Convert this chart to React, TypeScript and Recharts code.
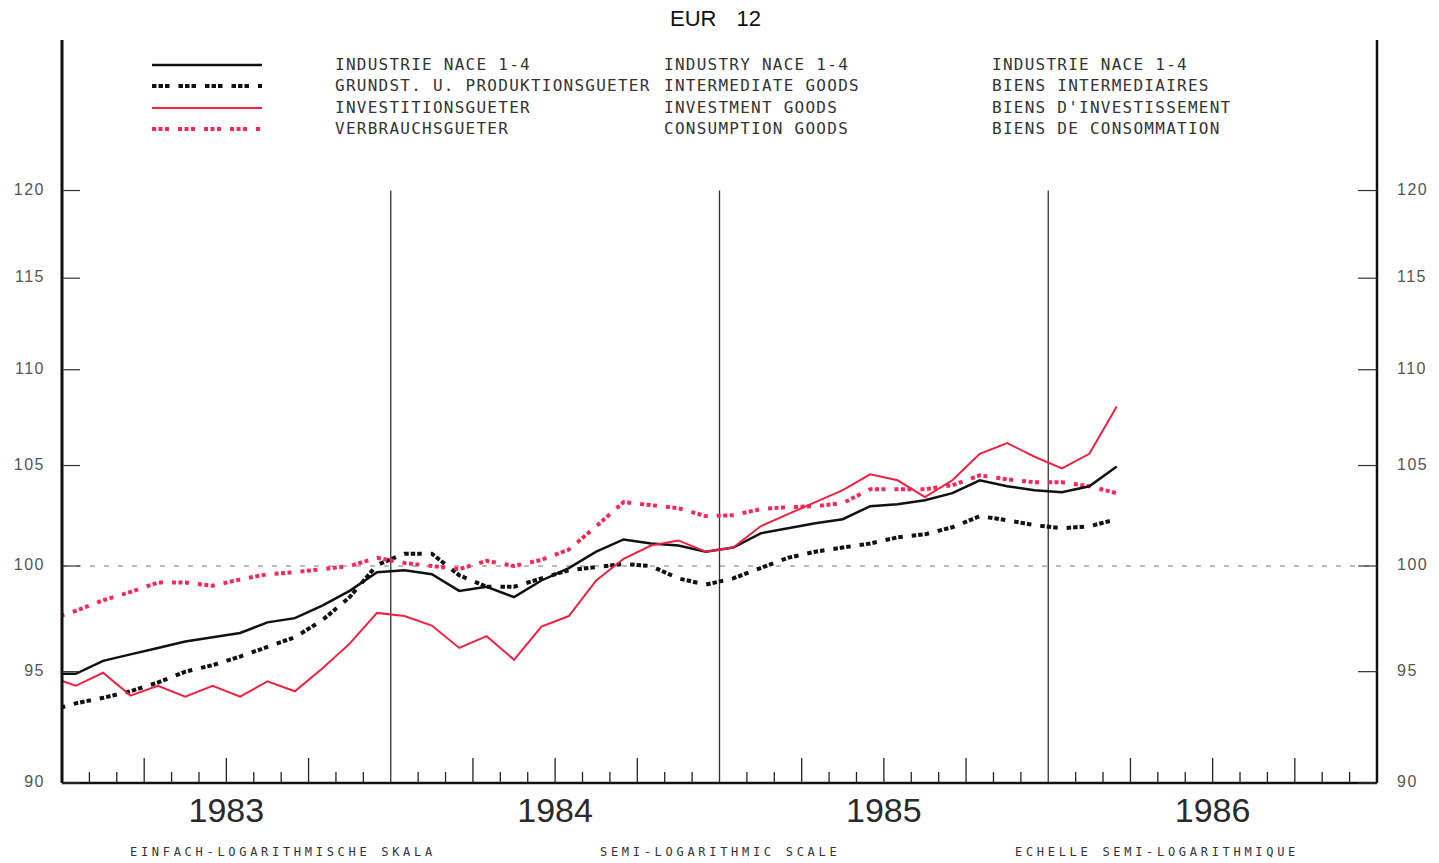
import { LineChart, Line, XAxis, YAxis, ReferenceLine, Legend } from "recharts"

// monthly index values, Dec 1982 .. Mar 1986 (Dec 1982 only feeds the clipped start)
const months = [
  "1982-12",
  "1983-01", "1983-02", "1983-03", "1983-04", "1983-05", "1983-06",
  "1983-07", "1983-08", "1983-09", "1983-10", "1983-11", "1983-12",
  "1984-01", "1984-02", "1984-03", "1984-04", "1984-05", "1984-06",
  "1984-07", "1984-08", "1984-09", "1984-10", "1984-11", "1984-12",
  "1985-01", "1985-02", "1985-03", "1985-04", "1985-05", "1985-06",
  "1985-07", "1985-08", "1985-09", "1985-10", "1985-11", "1985-12",
  "1986-01", "1986-02", "1986-03",
]

const industry = [
  94.9, 94.9, 95.5, 95.8, 96.1, 96.4, 96.6, 96.8, 97.3, 97.5, 98.1, 98.8, 99.7,
  99.8, 99.6, 98.8, 99.0, 98.5, 99.3, 99.9, 100.7, 101.3, 101.1, 101.0, 100.7,
  100.9, 101.6, 101.85, 102.1, 102.3, 102.95, 103.05, 103.25, 103.6, 104.25, 103.95, 103.75,
  103.65, 103.95, 104.95,
]

const intermediate = [
  93.2, 93.55, 93.8, 94.1, 94.5, 95.0, 95.3, 95.7, 96.15, 96.6, 97.4, 98.5, 100.05,
  100.6, 100.6, 99.55, 99.0, 99.0, 99.4, 99.8, 99.95, 100.1, 100.0, 99.4, 99.1,
  99.4, 99.9, 100.4, 100.7, 100.9, 101.1, 101.4, 101.55, 101.9, 102.45, 102.25, 102.0,
  101.85, 101.95, 102.3,
]

const investment = [
  94.8, 94.35, 94.95, 93.9, 94.35, 93.85, 94.35, 93.85, 94.55, 94.1, 95.15, 96.3, 97.75,
  97.6, 97.15, 96.1, 96.65, 95.55, 97.1, 97.6, 99.3, 100.35, 101.0, 101.25, 100.7,
  100.9, 101.95, 102.55, 103.15, 103.75, 104.55, 104.25, 103.4, 104.25, 105.6, 106.15, 105.45,
  104.85, 105.6, 108.05,
]

const consumption = [
  97.4, 97.85, 98.35, 98.75, 99.2, 99.2, 99.05, 99.35, 99.6, 99.7, 99.85, 100.0, 100.4,
  100.15, 100.0, 99.85, 100.25, 100.0, 100.3, 100.8, 101.95, 103.15, 103.0, 102.85, 102.45,
  102.5, 102.8, 102.9, 102.95, 103.1, 103.8, 103.8, 103.8, 104.0, 104.5, 104.3, 104.15,
  104.15, 103.95, 103.6,
]

const yearLabels = ["1983", "1984", "1985", "1986"]
const yTicks = [90, 95, 100, 105, 110, 115, 120]
const monthTicks = Array.from({ length: 49 }, (_, i) => i)
const yearBounds = [12, 24, 36]

const legendRows = [
  { key: "industry", de: "INDUSTRIE NACE 1-4", en: "INDUSTRY NACE 1-4", fr: "INDUSTRIE NACE 1-4" },
  { key: "intermediate", de: "GRUNDST. U. PRODUKTIONSGUETER", en: "INTERMEDIATE GOODS", fr: "BIENS INTERMEDIAIRES" },
  { key: "investment", de: "INVESTITIONSGUETER", en: "INVESTMENT GOODS", fr: "BIENS D'INVESTISSEMENT" },
  { key: "consumption", de: "VERBRAUCHSGUETER", en: "CONSUMPTION GOODS", fr: "BIENS DE CONSOMMATION" },
]

const styles: Record<string, { stroke: string; width: number; dash?: string }> = {
  industry: { stroke: "#111", width: 2.5 },
  intermediate: { stroke: "#111", width: 4, dash: "4.5 2 4.5 2 4.5 9" },
  investment: { stroke: "#ee2240", width: 2 },
  consumption: { stroke: "#f52a58", width: 4, dash: "4 2.5 4 2.5 4 9" },
}

const data = months.map((m, i) => ({
  month: m,
  t: i - 0.5,
  industry: industry[i],
  intermediate: intermediate[i],
  investment: investment[i],
  consumption: consumption[i],
}))

const mono = "'DejaVu Sans Mono', monospace"
const sans = "'Liberation Sans', Arial, sans-serif"

function MonthTick(props: any) {
  const { x, y, payload } = props
  const v = payload.value
  if (v % 12 === 0) return <g />
  const len = v % 3 === 0 ? 25 : 11
  const yi = v % 12 === 6 ? Math.floor(v / 12) : -1
  return (
    <g>
      <line x1={x} x2={x} y1={y} y2={y - len} stroke="#222" strokeWidth={1.3} />
      {yi >= 0 && (
        <text x={x} y={y + 39} textAnchor="middle" fontSize={34} fontFamily={sans} fill="#2a2a2a">
          {yearLabels[yi]}
        </text>
      )}
    </g>
  )
}

function LeftTick(props: any) {
  const { x, y, payload } = props
  return (
    <g>
      <line x1={x} x2={x + 18} y1={y} y2={y} stroke="#333" strokeWidth={1.2} />
      <text x={x - 17} y={y + 4} textAnchor="end" fontSize={16} letterSpacing={1.5} fontFamily={sans} fill="#555">
        {payload.value}
      </text>
    </g>
  )
}

function RightTick(props: any) {
  const { x, y, payload } = props
  return (
    <g>
      <line x1={x - 19} x2={x} y1={y} y2={y} stroke="#333" strokeWidth={1.2} />
      <text x={x + 20} y={y + 4} textAnchor="start" fontSize={16} letterSpacing={1.5} fontFamily={sans} fill="#555">
        {payload.value}
      </text>
    </g>
  )
}

function LegendBlock() {
  const txt = { position: "absolute" as const, fontFamily: mono, fontSize: 16, letterSpacing: 1.25, color: "#333", whiteSpace: "pre" as const, lineHeight: "16px" }
  return (
    <div style={{ position: "relative", width: 1150, height: 90 }}>
      {legendRows.map((r, i) => {
        const s = styles[r.key]
        const top = i * 21.3
        return (
          <div key={r.key}>
            <svg width={112} height={8} style={{ position: "absolute", left: 0, top: top + 4 }}>
              <line x1={1} x2={111} y1={4} y2={4} stroke={s.stroke} strokeWidth={s.width} strokeDasharray={s.dash} />
            </svg>
            <span style={{ ...txt, left: 184, top }}>{r.de}</span>
            <span style={{ ...txt, left: 513, top }}>{r.en}</span>
            <span style={{ ...txt, left: 841, top }}>{r.fr}</span>
          </div>
        )
      })}
    </div>
  )
}

export default function App() {
  const caption = { position: "absolute" as const, top: 845, fontFamily: mono, fontSize: 12, letterSpacing: 3.7, color: "#333", whiteSpace: "pre" as const }
  return (
    <div style={{ position: "absolute", left: 0, top: 0, width: 1439, height: 863, background: "#fff" }}>
      <div style={{ position: "absolute", left: 670, top: 6, fontFamily: sans, fontSize: 22, color: "#111", wordSpacing: 14, whiteSpace: "pre" }}>
        EUR 12
      </div>
      <LineChart width={1439} height={863} data={data} margin={{ top: 40, right: 0, bottom: 0, left: 0 }}>
        <XAxis
          dataKey="t"
          type="number"
          domain={[0, 48]}
          ticks={monthTicks}
          interval={0}
          allowDataOverflow
          height={80}
          tickSize={0}
          tickMargin={0}
          tickLine={false}
          axisLine={{ stroke: "#111", strokeWidth: 2.5 }}
          tick={<MonthTick />}
        />
        <YAxis
          yAxisId="left"
          orientation="left"
          scale="log"
          domain={[90, 129.1]}
          allowDataOverflow
          ticks={yTicks}
          interval={0}
          width={62}
          tickSize={0}
          tickMargin={0}
          tickLine={false}
          axisLine={{ stroke: "#111", strokeWidth: 3 }}
          tick={<LeftTick />}
        />
        <YAxis
          yAxisId="right"
          orientation="right"
          scale="log"
          domain={[90, 129.1]}
          allowDataOverflow
          ticks={yTicks}
          interval={0}
          width={62}
          tickSize={0}
          tickMargin={0}
          tickLine={false}
          axisLine={{ stroke: "#111", strokeWidth: 2.5 }}
          tick={<RightTick />}
        />
        <ReferenceLine yAxisId="left" y={100} stroke="#777" strokeWidth={1} strokeDasharray="5 9" />
        {yearBounds.map((b) => (
          <ReferenceLine
            key={b}
            yAxisId="left"
            segment={[{ x: b, y: 90 }, { x: b, y: 120 }]}
            stroke="#333"
            strokeWidth={1.3}
          />
        ))}
        {["intermediate", "consumption", "industry", "investment"].map((k) => (
          <Line
            key={k}
            yAxisId="left"
            dataKey={k}
            type="linear"
            stroke={styles[k].stroke}
            strokeWidth={styles[k].width}
            strokeDasharray={styles[k].dash}
            dot={false}
            activeDot={false}
            isAnimationActive={false}
          />
        ))}
        <Legend
          layout="vertical"
          align="center"
          verticalAlign="middle"
          content={<LegendBlock />}
          wrapperStyle={{ top: 57, left: 151, width: 1150, height: 90 }}
        />
      </LineChart>
      <div style={{ ...caption, left: 130 }}>EINFACH-LOGARITHMISCHE SKALA</div>
      <div style={{ ...caption, left: 600 }}>SEMI-LOGARITHMIC SCALE</div>
      <div style={{ ...caption, left: 1015 }}>ECHELLE SEMI-LOGARITHMIQUE</div>
    </div>
  )
}
